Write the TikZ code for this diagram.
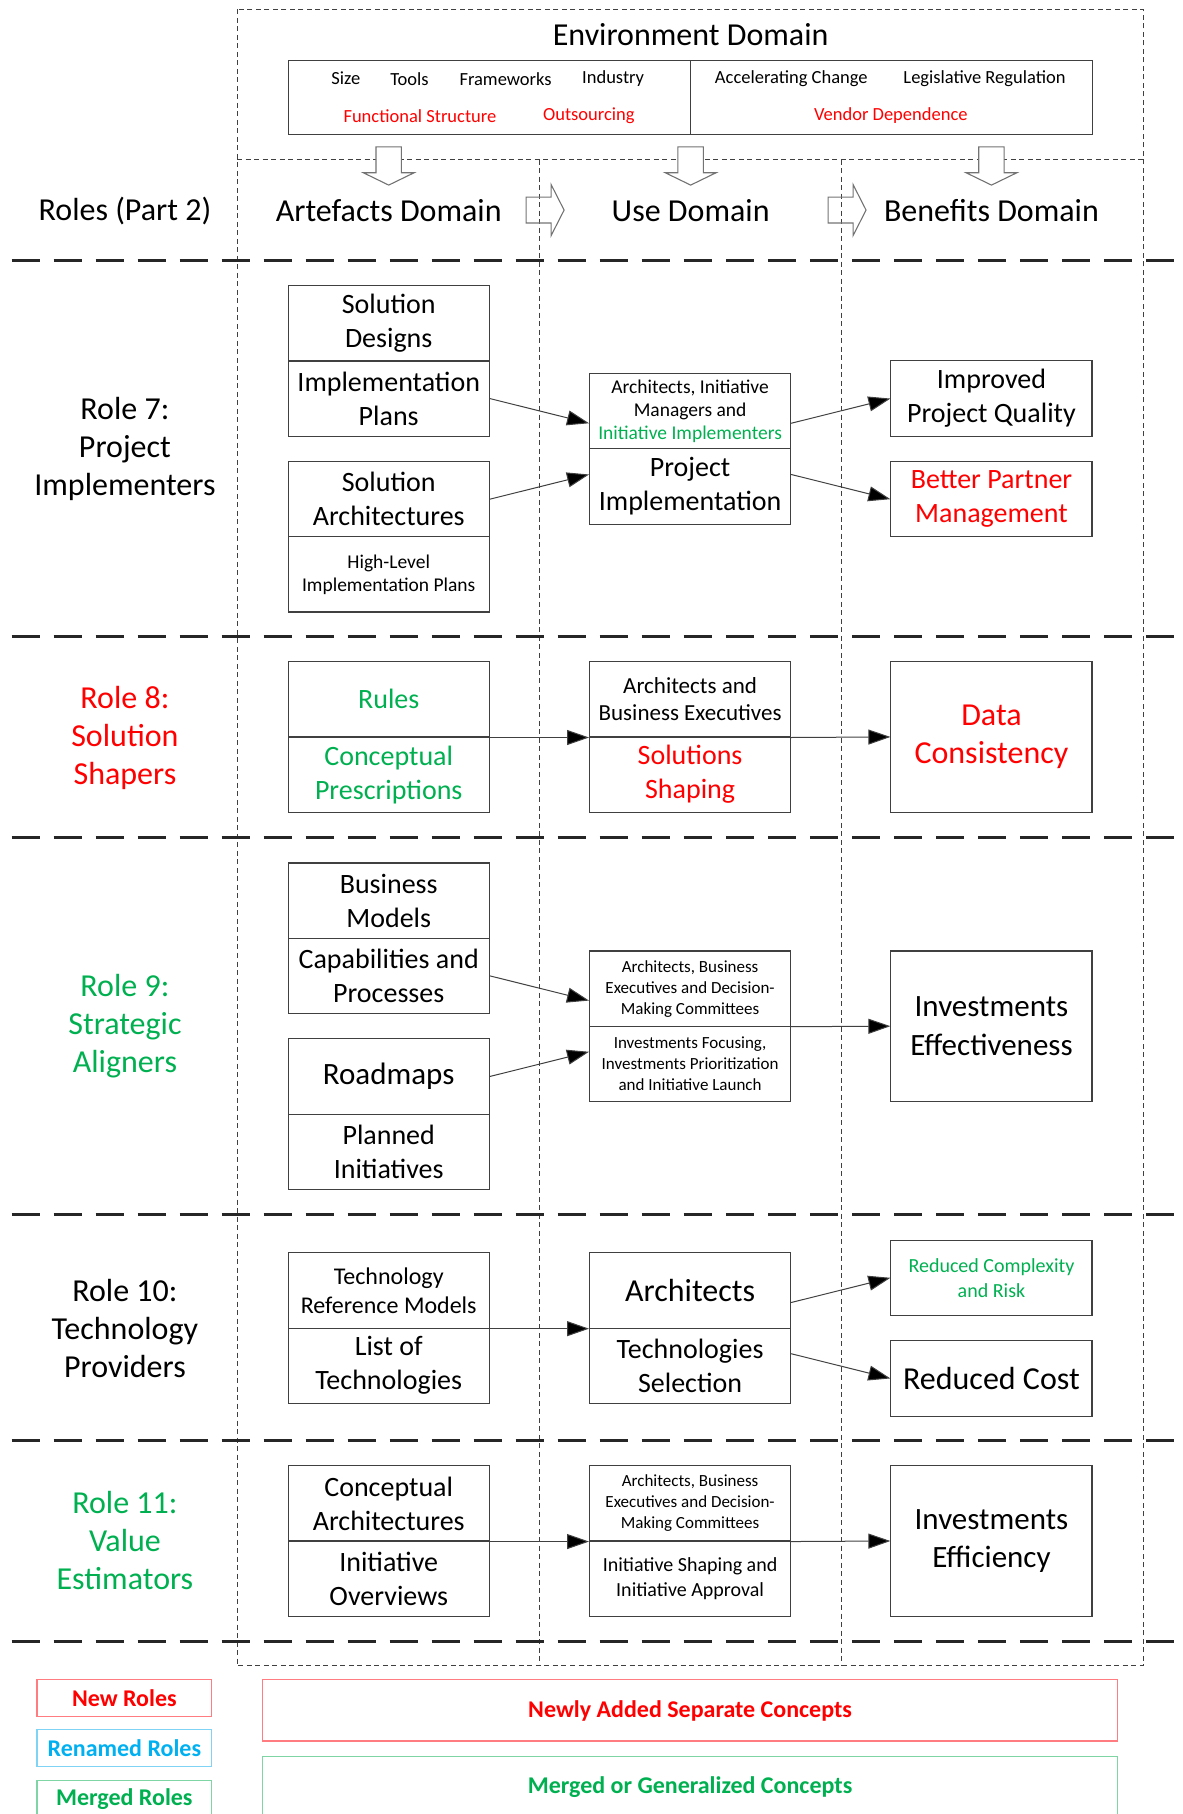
\documentclass[tikz,border=0pt]{standalone}
\usepackage{fontspec}
\setmainfont{Carlito}
\usetikzlibrary{arrows.meta,calc}

\definecolor{nred}{HTML}{FF0000}
\definecolor{ngreen}{HTML}{00B050}
\definecolor{nblue}{HTML}{00B0F0}
\definecolor{edgegray}{HTML}{404040}
\definecolor{lred}{HTML}{FF7C80}
\definecolor{lblue}{HTML}{7FD3F5}
\definecolor{lgreen}{HTML}{7FD6A4}

% font sizes used in the figure
\newcommand\fszA{\fontsize{32pt}{38pt}\selectfont}
\newcommand\fszB{\fontsize{28pt}{34pt}\selectfont}
\newcommand\fszC{\fontsize{24pt}{29pt}\selectfont}
\newcommand\fszD{\fontsize{23pt}{27pt}\selectfont}
\newcommand\fszE{\fontsize{20pt}{25pt}\selectfont}
\newcommand\fszF{\fontsize{19.5pt}{23pt}\selectfont}
\newcommand\fszG{\fontsize{18.5pt}{22pt}\selectfont}
\newcommand\fszH{\fontsize{17pt}{21pt}\selectfont}

\begin{document}
\begin{tikzpicture}[x=1.1566pt,y=-1.1566pt,
  cell/.style={draw=edgegray, line width=1.1pt, minimum width=201pt,
    minimum height=75.2pt, inner sep=1pt, align=center, font=\fszB},
  tallcell/.style={cell, minimum height=150.4pt},
  flow/.style={draw=edgegray, line width=1pt,
    -{Triangle[length=22pt,width=15pt,fill=black]}},
  thindash/.style={draw=black!75, line width=0.9pt, dash pattern=on 5pt off 3.5pt},
  rowsep/.style={draw=black!85, line width=2.5pt, dash pattern=on 28pt off 14pt},
  blockarrow/.style={draw=black!55, line width=1.1pt},
  rolelbl/.style={align=center, font=\fszA},
  header/.style={font=\fszA},
  envtxt/.style={font=\fszG},
  legbox/.style={line width=1.3pt, font=\fontsize{24pt}{29pt}\selectfont\bfseries,
    inner sep=0pt, align=center}
]
\useasboundingbox (0,0) rectangle (1022,1568);

% ---------- domain frame and column separators ----------
\draw[thindash] (205,8) rectangle (988,1440);
\draw[thindash] (205,138) -- (988,138);
\draw[thindash] (466,138) -- (466,1440);
\draw[thindash] (727,138) -- (727,1440);

% ---------- role separators ----------
\foreach \yy in {225,550,724,1050,1245,1419}
  \draw[rowsep] (10,\yy) -- (1022,\yy);

% ---------- environment domain ----------
\node[header] (envtitle) at (597,30) {Environment Domain};
\node[draw=edgegray, line width=1.1pt, minimum width=402.5pt, minimum height=74pt] (envL) at (423,84) {};
\node[draw=edgegray, line width=1.1pt, minimum width=401.3pt, minimum height=74pt] (envR) at (770.5,84) {};
\node[envtxt] (eSize) at (299,68) {Size};
\node[envtxt] (eTools) at (354,68) {Tools};
\node[envtxt] (eFrame) at (437,68) {Frameworks};
\node[envtxt] (eInd) at (530,68) {Industry};
\node[envtxt, text=nred] (eFunc) at (363,100) {Functional Structure};
\node[envtxt, text=nred] (eOut) at (509,100) {Outsourcing};
\node[envtxt] (eAcc) at (684,68) {Accelerating Change};
\node[envtxt] (eLeg) at (851,68) {Legislative Regulation};
\node[envtxt, text=nred] (eVend) at (770,100) {Vendor Dependence};

% ---------- block arrows between domains ----------
\foreach \cx in {336,597,857}
  \filldraw[blockarrow, fill=white] (\cx-11,127) -- (\cx+11,127) -- (\cx+11,149.3) -- (\cx+22,149.3)
    -- (\cx,160) -- (\cx-22,149.3) -- (\cx-11,149.3) -- cycle;
\foreach \xo in {454.8,715.8}
  \draw[blockarrow] (\xo,170.4) -- (\xo+21.6,170.4) -- (\xo+21.6,159.6) -- (\xo+32.8,181.6)
    -- (\xo+21.6,203.6) -- (\xo+21.6,192.8) -- (\xo,192.8) -- cycle;

% ---------- headers ----------
\node[header] (hRoles) at (108,182) {Roles (Part 2)};
\node[header] (hArt) at (336,182) {Artefacts Domain};
\node[header] (hUse) at (597,182) {Use Domain};
\node[header] (hBen) at (857,182) {Benefits Domain};

% ---------- Role 7 ----------
\node[rolelbl] (role7) at (108,388) {Role 7:\\Project\\Implementers};
\node[cell] (r7a1) at (336,279.5) {Solution\\Designs};
\node[cell] (r7a2) at (336,344.5) {Implementation\\Plans};
\node[cell] (r7a3) at (336,431.5) {Solution\\Architectures};
\node[cell, font=\fszF] (r7a4) at (336,496.5) {High-Level\\Implementation Plans};
\node[cell, font=\fszF] (r7u1) at (596.5,355.5) {Architects, Initiative\\Managers and\\\textcolor{ngreen}{Initiative Implementers}};
\node[cell] (r7u2) at (596.5,420.5) {Project\\Implementation};
\node[cell] (r7b1) at (857,344.5) {Improved\\Project Quality};
\node[cell, text=nred] (r7b2) at (857,431.5) {Better Partner\\Management};
\draw[flow] (r7a2.east) -- ([yshift=-12pt]r7u1.west);
\draw[flow] (r7a3.east) -- ([yshift=12pt]r7u2.west);
\draw[flow] ([yshift=-12pt]r7u1.east) -- (r7b1.west);
\draw[flow] ([yshift=12pt]r7u2.east) -- (r7b2.west);

% ---------- Role 8 ----------
\node[rolelbl, text=nred] (role8) at (108,638) {Role 8:\\Solution\\Shapers};
\node[cell, text=ngreen] (r8a1) at (336,604.5) {Rules};
\node[cell, text=ngreen] (r8a2) at (336,669.5) {Conceptual\\Prescriptions};
\node[cell, font=\fszD] (r8u1) at (596.5,604.5) {Architects and\\Business Executives};
\node[cell, text=nred] (r8u2) at (596.5,669.5) {Solutions\\Shaping};
\node[tallcell, font=\fszA, text=nred] (r8b) at (857,637) {Data\\Consistency};
\draw[flow] (r8a1.south east) -- (r8u1.south west);
\draw[flow] (r8u1.south east) -- (r8b.west);

% ---------- Role 9 ----------
\node[rolelbl, text=ngreen] (role9) at (108,887) {Role 9:\\Strategic\\Aligners};
\node[cell] (r9a1) at (336,778.5) {Business\\Models};
\node[cell] (r9a2) at (336,843.5) {Capabilities and\\Processes};
\node[cell, font=\fontsize{31pt}{37pt}\selectfont] (r9a3) at (336,930.5) {Roadmaps};
\node[cell] (r9a4) at (336,995.5) {Planned\\Initiatives};
\node[cell, font=\fszH] (r9u1) at (596.5,854.5) {Architects, Business\\Executives and Decision-\\Making Committees};
\node[cell, font=\fszH] (r9u2) at (596.5,919.5) {Investments Focusing,\\Investments Prioritization\\and Initiative Launch};
\node[tallcell, font=\fontsize{31pt}{38pt}\selectfont] (r9b) at (857,887) {Investments\\Effectiveness};
\draw[flow] (r9a2.east) -- ([yshift=-12pt]r9u1.west);
\draw[flow] (r9a3.east) -- ([yshift=12pt]r9u2.west);
\draw[flow] (r9u1.south east) -- (r9b.west);

% ---------- Role 10 ----------
\node[rolelbl] (role10) at (108,1148) {Role 10:\\Technology\\Providers};
\node[cell, font=\fszC] (r10a1) at (336,1115.5) {Technology\\Reference Models};
\node[cell] (r10a2) at (336,1180.5) {List of\\Technologies};
\node[cell, font=\fszA] (r10u1) at (596.5,1115.5) {Architects};
\node[cell] (r10u2) at (596.5,1180.5) {Technologies\\Selection};
\node[cell, font=\fszE, text=ngreen] (r10b1) at (857,1104.5) {Reduced Complexity\\and Risk};
\node[cell, font=\fszA] (r10b2) at (857,1191.5) {Reduced Cost};
\draw[flow] (r10a1.south east) -- (r10u1.south west);
\draw[flow] ([yshift=-12pt]r10u1.east) -- (r10b1.west);
\draw[flow] ([yshift=12pt]r10u2.east) -- (r10b2.west);

% ---------- Role 11 ----------
\node[rolelbl, text=ngreen] (role11) at (108,1332) {Role 11:\\Value\\Estimators};
\node[cell] (r11a1) at (336,1299.5) {Conceptual\\Architectures};
\node[cell] (r11a2) at (336,1364.5) {Initiative\\Overviews};
\node[cell, font=\fszH] (r11u1) at (596.5,1299.5) {Architects, Business\\Executives and Decision-\\Making Committees};
\node[cell, font=\fszE] (r11u2) at (596.5,1364.5) {Initiative Shaping and\\Initiative Approval};
\node[tallcell, font=\fontsize{31pt}{38pt}\selectfont] (r11b) at (857,1332) {Investments\\Efficiency};
\draw[flow] (r11a1.south east) -- (r11u1.south west);
\draw[flow] (r11u1.south east) -- (r11b.west);

% ---------- legend ----------
\node[legbox, draw=lred, text=nred, minimum width=174.6pt, minimum height=37pt] (lgNew) at (107.5,1468) {New Roles};
\node[legbox, draw=lblue, text=nblue, minimum width=174.6pt, minimum height=37pt] (lgRen) at (107.5,1511) {Renamed Roles};
\node[legbox, draw=lgreen, text=ngreen, minimum width=174.6pt, minimum height=37pt] (lgMer) at (107.5,1555) {Merged Roles};
\node[legbox, draw=lred, text=nred, minimum width=854.7pt, minimum height=61.3pt] (lgAdd) at (596.5,1478.5) {Newly Added Separate Concepts};
\node[legbox, draw=lgreen, text=ngreen, minimum width=854.7pt, minimum height=61.3pt] (lgGen) at (596.5,1544.5) {Merged or Generalized Concepts};
\end{tikzpicture}
\end{document}
